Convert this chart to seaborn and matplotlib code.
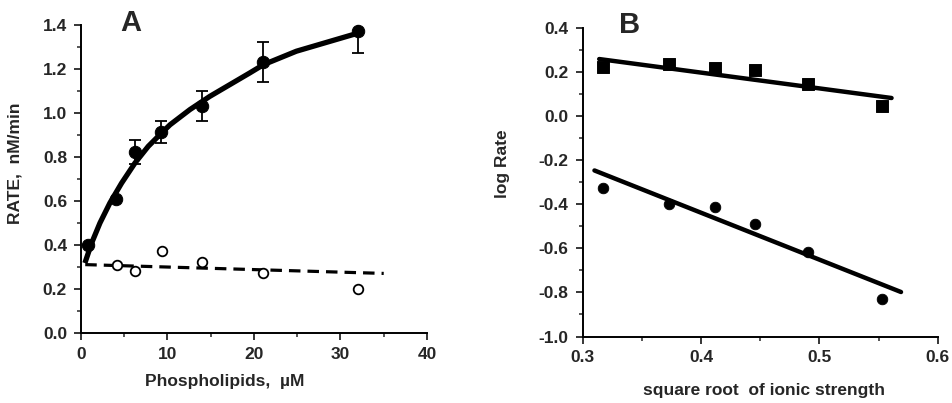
import numpy as np
import pandas as pd
import matplotlib
matplotlib.use("Agg")
import matplotlib.pyplot as plt
import seaborn as sns
from matplotlib.ticker import MultipleLocator, FormatStrFormatter

# panel A: rate vs phospholipids
pl_x = [0.8, 4.1, 6.2, 9.3, 14.0, 21.0, 32.0]
rate_filled = [0.40, 0.61, 0.82, 0.91, 1.03, 1.23, 1.37]
rate_err = [0.0, 0.0, 0.055, 0.05, 0.07, 0.09, 0.10]
pl_open_x = [4.2, 6.3, 9.4, 14.0, 21.0, 32.0]
rate_open = [0.31, 0.28, 0.37, 0.32, 0.27, 0.20]
# fitted curves
fit_x = [0.46, 1.24, 2.2, 3.35, 4.7, 6.24, 7.78, 9.33, 10.3, 12.6, 14.9,
         17.2, 19.5, 21.1, 24.9, 28.8, 32.1]
fit_y = [0.317, 0.408, 0.499, 0.59, 0.68, 0.771, 0.847, 0.908, 0.945, 1.014,
         1.074, 1.127, 1.18, 1.218, 1.279, 1.324, 1.362]
dash_x = [0.5, 35.0]
dash_y = [0.31, 0.27]

# panel B: log rate vs sqrt ionic strength
ion_x = [0.317, 0.373, 0.412, 0.446, 0.490, 0.553]
lograte_sq = [0.226, 0.237, 0.221, 0.211, 0.146, 0.047]
lograte_ci = [-0.326, -0.397, -0.414, -0.488, -0.614, -0.829]
sq_line_x = [0.314, 0.561]
sq_line_y = [0.26, 0.083]
ci_line_x = [0.310, 0.569]
ci_line_y = [-0.246, -0.798]

sns.set_style("ticks")
plt.rcParams['font.family'] = ['Liberation Sans', 'DejaVu Sans']
plt.rcParams['font.weight'] = 'bold'
plt.rcParams['axes.labelweight'] = 'bold'

fs = 12.5
fig = plt.figure(figsize=(9.52, 4.03), dpi=100)
axA = fig.add_axes([0.085, 0.174, 0.3635, 0.765])
axB = fig.add_axes([0.612, 0.165, 0.373, 0.765])

# ---- A
sns.lineplot(x=fit_x, y=fit_y, ax=axA, color='black', lw=3.8, sort=False,
             solid_joinstyle='round', solid_capstyle='butt')
sns.lineplot(x=dash_x, y=dash_y, ax=axA, color='black', lw=2.3,
             linestyle=(0, (3.6, 2.2)))
axA.errorbar(pl_x, rate_filled, yerr=rate_err, fmt='none', ecolor='black',
             elinewidth=1.3, capsize=4, capthick=1.3)
sns.scatterplot(x=pl_x, y=rate_filled, ax=axA, color='black', s=80,
                edgecolor='black', zorder=5, clip_on=False)
sns.scatterplot(x=pl_open_x, y=rate_open, ax=axA, color='white', s=48,
                edgecolor='black', linewidth=1.3, zorder=5)
axA.set_xlim(0, 40)
axA.set_ylim(0, 1.4)
axA.xaxis.set_major_locator(MultipleLocator(10))
axA.xaxis.set_minor_locator(MultipleLocator(5))
axA.yaxis.set_major_locator(MultipleLocator(0.2))
axA.yaxis.set_minor_locator(MultipleLocator(0.1))
axA.yaxis.set_major_formatter(FormatStrFormatter('%.1f'))
axA.set_xlabel('Phospholipids,  \u00b5M', fontsize=fs)
axA.set_ylabel('RATE,  nM/min', fontsize=fs)
axA.xaxis.set_label_coords(0.416, -0.135)
axA.yaxis.set_label_coords(-0.17, 0.55)
axA.text(4.5, 1.37, 'A', fontsize=21, fontweight='bold')

# ---- B
sns.lineplot(x=sq_line_x, y=sq_line_y, ax=axB, color='black', lw=3.2)
sns.lineplot(x=ci_line_x, y=ci_line_y, ax=axB, color='black', lw=3.2)
sns.scatterplot(x=ion_x, y=lograte_sq, ax=axB, color='black', marker='s',
                s=70, edgecolor='black', zorder=5)
sns.scatterplot(x=ion_x, y=lograte_ci, ax=axB, color='black', s=58,
                edgecolor='black', zorder=5)
axB.set_xlim(0.3, 0.6)
axB.set_ylim(-1.0, 0.4)
axB.xaxis.set_major_locator(MultipleLocator(0.1))
axB.xaxis.set_minor_locator(MultipleLocator(0.05))
axB.yaxis.set_major_locator(MultipleLocator(0.2))
axB.yaxis.set_minor_locator(MultipleLocator(0.1))
axB.yaxis.set_major_formatter(FormatStrFormatter('%.1f'))
axB.set_xlabel('square root  of ionic strength', fontsize=fs)
axB.set_ylabel('log Rate', fontsize=fs)
axB.xaxis.set_label_coords(0.51, -0.15)
axB.yaxis.set_label_coords(-0.205, 0.56)
axB.text(0.331, 0.38, 'B', fontsize=21, fontweight='bold')

for ax in (axA, axB):
    sns.despine(ax=ax)
    ax.tick_params(which='major', length=5, width=1.3, labelsize=fs, pad=5)
    ax.tick_params(which='minor', length=3, width=1.1)
    for s in ('left', 'bottom'):
        ax.spines[s].set_linewidth(1.4)
        ax.spines[s].set_color('black')
    for lab in ax.get_xticklabels() + ax.get_yticklabels():
        lab.set_fontweight('bold')
    if ax.get_legend():
        ax.get_legend().remove()

fig.savefig('out.png', dpi=100, facecolor='white')
